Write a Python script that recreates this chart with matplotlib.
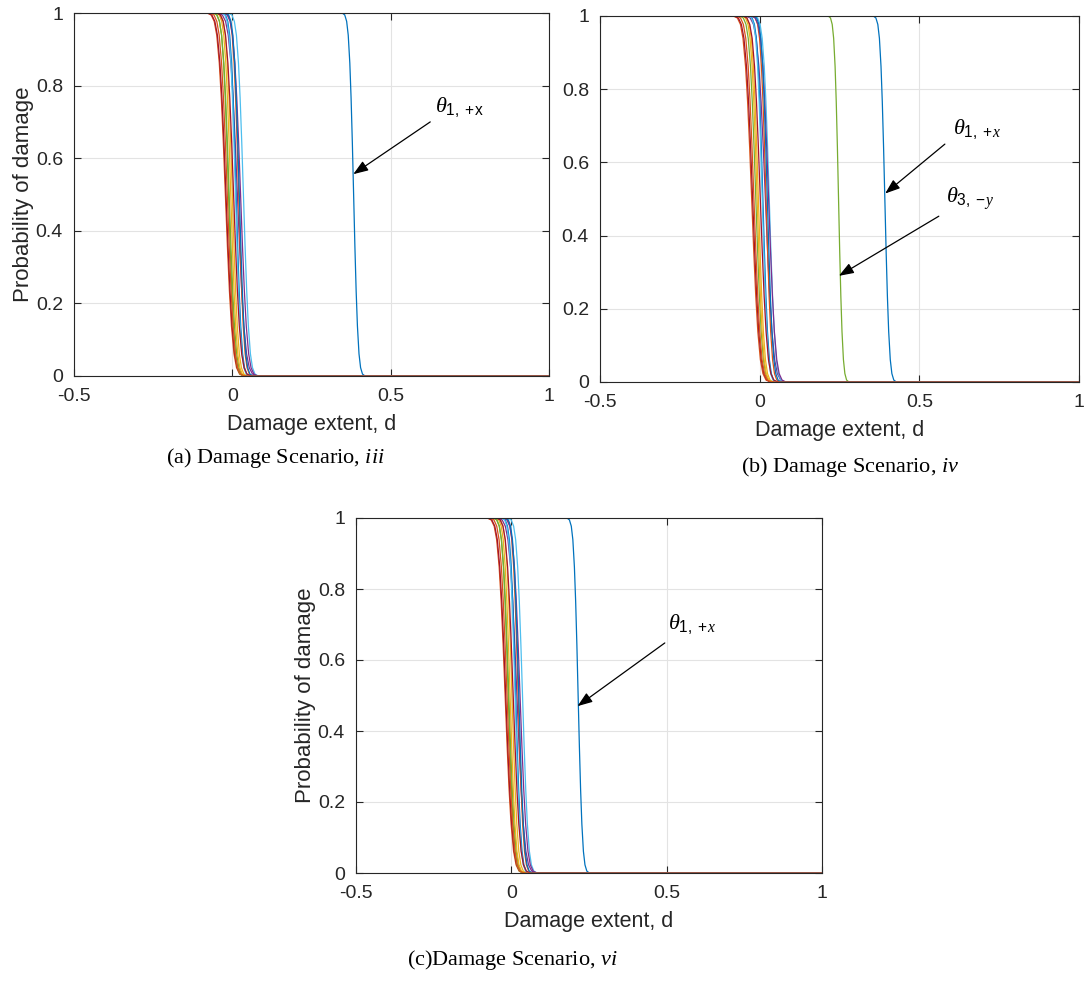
import numpy as np
import matplotlib
matplotlib.use('Agg')
import matplotlib.pyplot as plt

plt.rcParams['font.family'] = ['Liberation Sans', 'DejaVu Sans']
plt.rcParams['mathtext.fontset'] = 'custom'
plt.rcParams['mathtext.rm'] = 'Liberation Serif'
plt.rcParams['mathtext.it'] = 'Liberation Serif:italic'
plt.rcParams['mathtext.sf'] = 'Liberation Sans'

# MATLAB default line colour order
colors = ['#0072BD', '#D95319', '#EDB120', '#7E2F8E', '#77AC30', '#4DBEEE', '#A2142F']

# shape of one drop (offset from its midpoint, probability)
drop_offset = [-0.045, -0.035, -0.028, -0.022, -0.017, -0.012, -0.008, -0.004, 0.0,
               0.004, 0.008, 0.012, 0.017, 0.022, 0.028, 0.035, 0.045]
drop_prob = [1.0, 0.9993, 0.9946, 0.977, 0.939, 0.862, 0.766, 0.642, 0.5,
             0.358, 0.234, 0.138, 0.061, 0.023, 0.0054, 0.0007, 0.0]

# midpoint (P = 0.5) and relative width of each curve, 16 curves per scenario
centers_a = [0.383, -0.022, 0.000, 0.016, -0.010, 0.035, -0.020, 0.012,
             0.020, -0.005, 0.026, -0.012, 0.010, 0.004, 0.022, -0.016]
widths_a = [1.0, 1.6, 1.3, 1.7, 1.4, 1.3, 1.6, 1.2,
            1.2, 1.3, 1.5, 1.3, 1.2, 1.5, 1.2, 1.5]

centers_b = [0.392, -0.025, -0.004, 0.018, -0.012, 0.030, -0.022, 0.010,
             0.020, -0.008, 0.028, 0.247, 0.008, 0.002, 0.024, -0.018]
widths_b = [1.0, 1.6, 1.3, 1.7, 1.4, 1.3, 1.6, 1.2,
            1.2, 1.3, 1.5, 0.9, 1.2, 1.5, 1.2, 1.5]

centers_c = [0.215, -0.020, 0.002, 0.018, -0.008, 0.036, -0.018, 0.014,
             0.022, -0.004, 0.028, -0.010, 0.012, 0.006, 0.024, -0.014]
widths_c = [1.0, 1.6, 1.3, 1.7, 1.4, 1.3, 1.6, 1.2,
            1.2, 1.3, 1.5, 1.3, 1.2, 1.5, 1.2, 1.5]

xticks = [-0.5, 0, 0.5, 1]
yticks = [0, 0.2, 0.4, 0.6, 0.8, 1]
xtick_labels = ['-0.5', '0', '0.5', '1']
ytick_labels = ['0', '0.2', '0.4', '0.6', '0.8', '1']


def draw_panel(ax, centers, widths, ylabel=True):
    off = np.array(drop_offset)
    for i, (c, w) in enumerate(zip(centers, widths)):
        x = np.concatenate([[-0.5], c + w * off, [1.0]])
        y = np.concatenate([[1.0], drop_prob, [0.0]])
        ax.plot(x, y, color=colors[i % 7], lw=0.9)
    ax.set_xlim(-0.5, 1)
    ax.set_ylim(0, 1)
    ax.set_xticks(xticks)
    ax.set_xticklabels(xtick_labels)
    ax.set_yticks(yticks)
    ax.set_yticklabels(ytick_labels)
    ax.grid(True, color='#e3e3e3', lw=0.8)
    ax.set_axisbelow(True)
    ax.tick_params(direction='in', top=True, right=True, length=5, width=0.8,
                   labelsize=14, colors='#262626')
    ax.tick_params(axis='x', pad=9)
    ax.tick_params(axis='y', pad=8)
    for s in ax.spines.values():
        s.set_color('#262626')
        s.set_linewidth(0.8)
    ax.set_xlabel('Damage extent, d', fontsize=15.5, color='#262626', labelpad=6)
    if ylabel:
        ax.set_ylabel('Probability of damage', fontsize=16, color='#262626', labelpad=1)


def arrow(ax, tip, start):
    ax.annotate('', xy=tip, xytext=start,
                arrowprops=dict(arrowstyle='-|>,head_length=0.9,head_width=0.33',
                                color='k', lw=0.9, shrinkA=0, shrinkB=0))


fig = plt.figure(figsize=(10.85, 9.89), dpi=100)
W, H = 1085, 989

ax_a = fig.add_axes([74 / W, 1 - 376 / H, 475 / W, 363 / H])
ax_b = fig.add_axes([600 / W, 1 - 382 / H, 479 / W, 366 / H])
ax_c = fig.add_axes([356 / W, 1 - 873 / H, 466 / W, 355 / H])

draw_panel(ax_a, centers_a, widths_a)
draw_panel(ax_b, centers_b, widths_b, ylabel=False)
draw_panel(ax_c, centers_c, widths_c)

lab_kw = dict(fontsize=16, va='center')
ax_a.text(0.64, 0.74, r'$\theta_{\mathsf{1,\ {+}x}}$', **lab_kw)
arrow(ax_a, (0.382, 0.556), (0.625, 0.70))

ax_b.text(0.605, 0.69, r'$\theta_{\mathsf{1,\ {+}}x}$', **lab_kw)
arrow(ax_b, (0.393, 0.515), (0.58, 0.65))
ax_b.text(0.585, 0.50, r'$\theta_{\mathsf{3,\ {-}}y}$', **lab_kw)
arrow(ax_b, (0.248, 0.29), (0.561, 0.453))

ax_c.text(0.505, 0.70, r'$\theta_{\mathsf{1,\ {+}}x}$', **lab_kw)
arrow(ax_c, (0.213, 0.47), (0.494, 0.648))

cap_kw = dict(fontsize=16, family='Liberation Serif', ha='center', va='center')
fig.text(275 / W, 1 - 458 / H, r'(a) Damage Scenario, $\mathit{iii}$', **cap_kw)
fig.text(850 / W, 1 - 467 / H, r'(b) Damage Scenario, $\mathit{iv}$', **cap_kw)
fig.text(512 / W, 1 - 960 / H, r'(c)Damage Scenario, $\mathit{vi}$', **cap_kw)

fig.savefig('out.png', dpi=100)
